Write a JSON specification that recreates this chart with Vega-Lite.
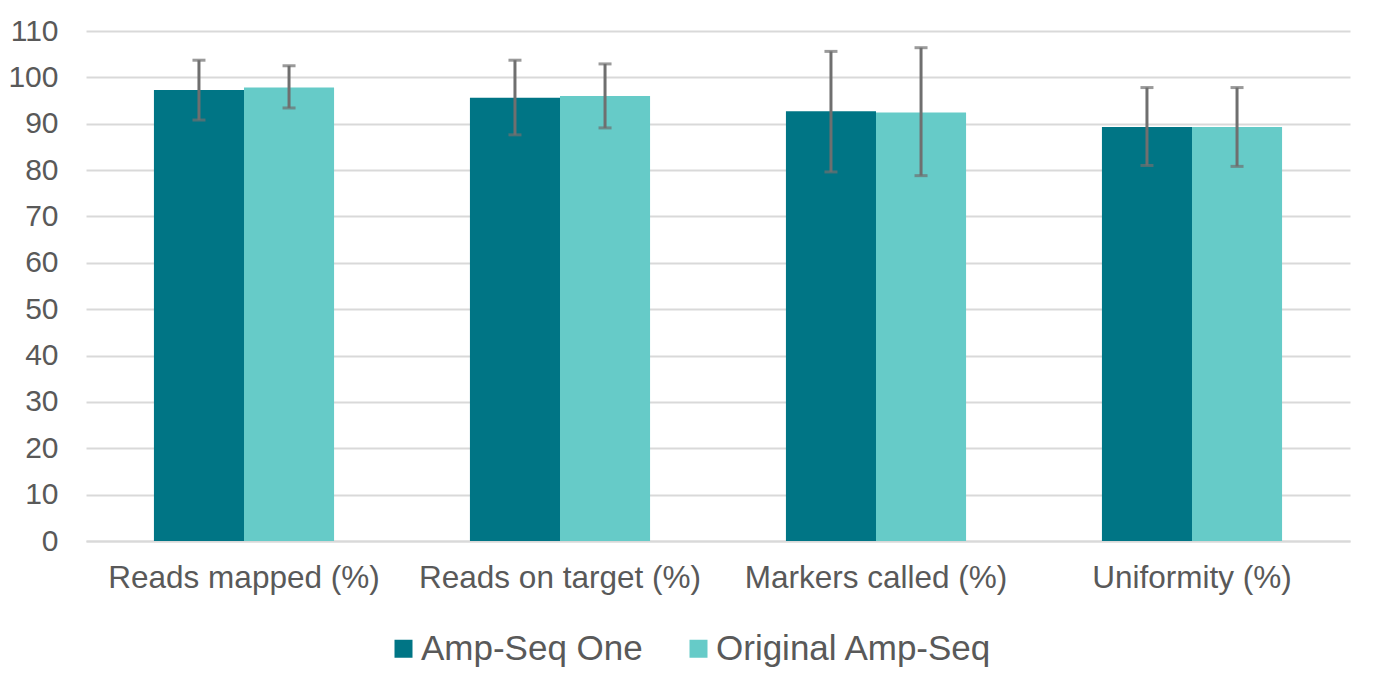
{
  "$schema": "https://vega.github.io/schema/vega-lite/v6.json",
  "autosize": "none",
  "width": 1264,
  "height": 510,
  "padding": {"left": 86, "top": 31, "right": 50, "bottom": 144},
  "background": "white",
  "config": {
    "view": {"stroke": null},
    "font": "Liberation Sans",
    "axis": {"labelFont": "Liberation Sans", "labelColor": "#595959", "labelFontSize": 30, "labelLimit": 0},
    "legend": {"labelFont": "Liberation Sans", "labelColor": "#595959", "labelFontSize": 35, "labelLimit": 0}
  },
  "data": {
    "values": [
      {"category": "Reads mapped (%)", "series": "Amp-Seq One", "value": 97.3, "lo": 90.8, "hi": 103.7},
      {"category": "Reads mapped (%)", "series": "Original Amp-Seq", "value": 97.8, "lo": 93.4, "hi": 102.5},
      {"category": "Reads on target (%)", "series": "Amp-Seq One", "value": 95.6, "lo": 87.6, "hi": 103.7},
      {"category": "Reads on target (%)", "series": "Original Amp-Seq", "value": 96.0, "lo": 89.1, "hi": 102.9},
      {"category": "Markers called (%)", "series": "Amp-Seq One", "value": 92.7, "lo": 79.6, "hi": 105.6},
      {"category": "Markers called (%)", "series": "Original Amp-Seq", "value": 92.4, "lo": 78.8, "hi": 106.4},
      {"category": "Uniformity (%)", "series": "Amp-Seq One", "value": 89.3, "lo": 81.0, "hi": 97.8},
      {"category": "Uniformity (%)", "series": "Original Amp-Seq", "value": 89.3, "lo": 80.8, "hi": 97.8}
    ]
  },
  "encoding": {
    "x": {
      "field": "category", "type": "nominal", "sort": null, "title": null,
      "scale": {"paddingInner": 0.43, "paddingOuter": 0.215},
      "axis": {"labelAngle": 0, "ticks": false, "domainColor": "#d9d9d9", "domainWidth": 2, "labelPadding": 21, "grid": false, "labelFontSize": 31.5}
    },
    "xOffset": {"field": "series", "type": "nominal", "sort": null, "scale": {"paddingInner": 0, "paddingOuter": 0}}
  },
  "layer": [
    {
      "mark": {"type": "bar"},
      "encoding": {
        "y": {
          "field": "value", "type": "quantitative", "title": null,
          "scale": {"domain": [0, 110], "nice": false},
          "axis": {"values": [0,10,20,30,40,50,60,70,80,90,100,110], "ticks": false, "domain": false, "gridColor": "#d9d9d9", "gridWidth": 2, "labelPadding": 28}
        },
        "color": {
          "field": "series", "type": "nominal", "sort": null,
          "scale": {"domain": ["Amp-Seq One", "Original Amp-Seq"], "range": ["#007585", "#66CBC8"]},
          "legend": {
            "title": null, "orient": "none", "direction": "horizontal",
            "legendX": 300, "legendY": 600,
            "symbolType": "square", "symbolSize": 324, "symbolStrokeWidth": 0,
            "labelOffset": 0, "columnPadding": 38
          }
        }
      }
    },
    {
      "mark": {"type": "rule", "color": "#6f6f6f", "strokeWidth": 3},
      "encoding": {
        "y": {"field": "lo", "type": "quantitative"},
        "y2": {"field": "hi"}
      }
    },
    {
      "mark": {"type": "tick", "color": "#6f6f6f", "size": 13, "thickness": 3},
      "encoding": {"y": {"field": "lo", "type": "quantitative"}}
    },
    {
      "mark": {"type": "tick", "color": "#6f6f6f", "size": 13, "thickness": 3},
      "encoding": {"y": {"field": "hi", "type": "quantitative"}}
    }
  ]
}
